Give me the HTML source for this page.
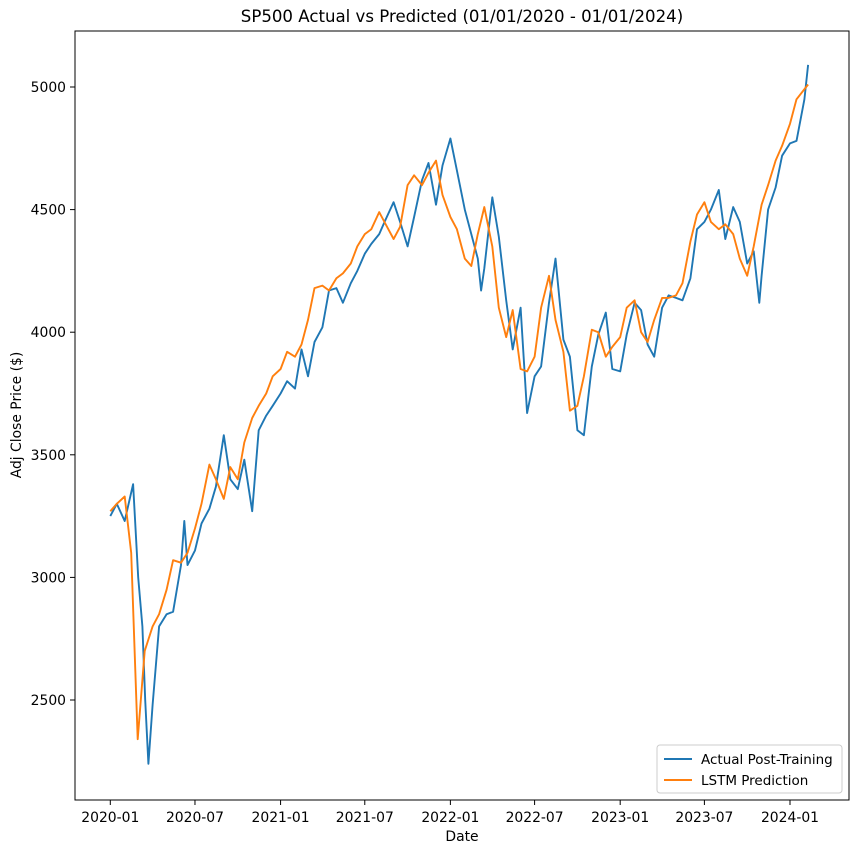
<!DOCTYPE html>
<html><head><meta charset="utf-8"><style>
body{margin:0;background:#fff;font-family:"Liberation Sans","DejaVu Sans",sans-serif;}
svg text{font-family:"DejaVu Sans","Liberation Sans",sans-serif;}
</style></head><body>
<svg id="chart" width="859" height="853" xmlns="http://www.w3.org/2000/svg">
<rect width="859" height="853" fill="#fff"/>
<text x="462" y="22" text-anchor="middle" font-size="16.6">SP500 Actual vs Predicted (01/01/2020 - 01/01/2024)</text>
<text x="462" y="841" text-anchor="middle" font-size="13.9">Date</text>
<text transform="translate(21,415) rotate(-90)" text-anchor="middle" font-size="13.9">Adj Close Price ($)</text>
<g id="xticks"></g>
<g id="yticks"></g>
<g id="series"></g>
<rect x="75" y="31" width="774" height="769" fill="none" stroke="#000" stroke-width="1"/>
<g>
<rect x="657" y="745" width="185" height="48" rx="3" fill="#fff" stroke="#ccc"/>
<line x1="664" y1="759" x2="692" y2="759" stroke="#1f77b4" stroke-width="2"/>
<text x="701" y="764" font-size="13.5">Actual Post-Training</text>
<line x1="664" y1="780" x2="692" y2="780" stroke="#ff7f0e" stroke-width="2"/>
<text x="701" y="785" font-size="13.5">LSTM Prediction</text>
</g>
</svg>
<script>
const actualDates=["2020-01-01","2020-01-15","2020-02-01","2020-02-19","2020-03-01","2020-03-10","2020-03-16","2020-03-23","2020-04-01","2020-04-15","2020-05-01","2020-05-15","2020-06-01","2020-06-08","2020-06-15","2020-07-01","2020-07-15","2020-08-01","2020-08-15","2020-09-01","2020-09-15","2020-10-01","2020-10-15","2020-11-01","2020-11-15","2020-12-01","2020-12-15",
"2021-01-01","2021-01-15","2021-02-01","2021-02-15","2021-03-01","2021-03-15","2021-04-01","2021-04-15","2021-05-01","2021-05-15","2021-06-01","2021-06-15","2021-07-01","2021-07-15","2021-08-01","2021-08-15","2021-09-01","2021-09-15","2021-10-01","2021-10-15","2021-11-01","2021-11-15","2021-12-01","2021-12-15",
"2022-01-01","2022-01-15","2022-02-01","2022-02-15","2022-03-01","2022-03-08","2022-03-15","2022-04-01","2022-04-15","2022-05-01","2022-05-15","2022-06-01","2022-06-15","2022-07-01","2022-07-15","2022-08-01","2022-08-15","2022-09-01","2022-09-15","2022-10-01","2022-10-15","2022-11-01","2022-11-15","2022-12-01","2022-12-15",
"2023-01-01","2023-01-15","2023-02-01","2023-02-15","2023-03-01","2023-03-15","2023-04-01","2023-04-15","2023-05-01","2023-05-15","2023-06-01","2023-06-15","2023-07-01","2023-07-15","2023-08-01","2023-08-15","2023-09-01","2023-09-15","2023-10-01","2023-10-15","2023-10-27","2023-11-01","2023-11-15","2023-12-01","2023-12-15",
"2024-01-01","2024-01-15","2024-02-01","2024-02-09"];
const actualValues=[3250,3300,3230,3380,3000,2800,2500,2240,2480,2800,2850,2860,3050,3230,3050,3110,3220,3280,3370,3580,3400,3360,3480,3270,3600,3660,3700,
3750,3800,3770,3930,3820,3960,4020,4170,4180,4120,4200,4250,4320,4360,4400,4460,4530,4450,4350,4470,4620,4690,4520,4680,
4790,4660,4500,4400,4300,4170,4260,4550,4390,4130,3930,4100,3670,3820,3860,4120,4300,3970,3900,3600,3580,3860,3990,4080,3850,
3840,3990,4120,4090,3950,3900,4100,4150,4140,4130,4220,4420,4450,4500,4580,4380,4510,4450,4280,4330,4120,4230,4500,4590,4720,
4770,4780,4950,5090];
const predDates=["2020-01-01","2020-01-15","2020-02-01","2020-02-15","2020-02-29","2020-03-15","2020-04-01","2020-04-15","2020-05-01","2020-05-15","2020-06-01","2020-06-15","2020-07-01","2020-07-15","2020-08-01","2020-08-15","2020-09-01","2020-09-15","2020-10-01","2020-10-15","2020-11-01","2020-11-15","2020-12-01","2020-12-15",
"2021-01-01","2021-01-15","2021-02-01","2021-02-15","2021-03-01","2021-03-15","2021-04-01","2021-04-15","2021-05-01","2021-05-15","2021-06-01","2021-06-15","2021-07-01","2021-07-15","2021-08-01","2021-08-15","2021-09-01","2021-09-15","2021-10-01","2021-10-15","2021-11-01","2021-11-15","2021-12-01","2021-12-15",
"2022-01-01","2022-01-15","2022-02-01","2022-02-15","2022-03-01","2022-03-15","2022-04-01","2022-04-15","2022-05-01","2022-05-15","2022-06-01","2022-06-15","2022-07-01","2022-07-15","2022-08-01","2022-08-15","2022-09-01","2022-09-15","2022-10-01","2022-10-15","2022-11-01","2022-11-15","2022-12-01","2022-12-15",
"2023-01-01","2023-01-15","2023-02-01","2023-02-15","2023-03-01","2023-03-15","2023-04-01","2023-04-15","2023-05-01","2023-05-15","2023-06-01","2023-06-15","2023-07-01","2023-07-15","2023-08-01","2023-08-15","2023-09-01","2023-09-15","2023-10-01","2023-10-15","2023-11-01","2023-11-15","2023-12-01","2023-12-15",
"2024-01-01","2024-01-15","2024-02-09"];
const predValues=[3270,3300,3330,3100,2340,2700,2800,2850,2950,3070,3060,3100,3200,3300,3460,3400,3320,3450,3400,3550,3650,3700,3750,3820,
3850,3920,3900,3950,4050,4180,4190,4170,4220,4240,4280,4350,4400,4420,4490,4440,4380,4430,4600,4640,4600,4650,4700,4560,
4470,4420,4300,4270,4400,4510,4350,4100,3980,4090,3850,3840,3900,4100,4230,4050,3920,3680,3700,3820,4010,4000,3900,3940,
3980,4100,4130,4000,3960,4050,4140,4140,4150,4200,4370,4480,4530,4450,4420,4440,4400,4300,4230,4350,4520,4600,4700,4760,
4850,4950,5010];
const xTickLabels=["2020-01","2020-07","2021-01","2021-07","2022-01","2022-07","2023-01","2023-07","2024-01"];
const yTickValues=[2500,3000,3500,4000,4500,5000];

const NS="http://www.w3.org/2000/svg";
const t0=Date.UTC(2020,0,1);
function dayOf(s){const p=s.split("-").map(Number);return (Date.UTC(p[0],p[1]-1,p[2]||1)-t0)/86400000;}
function xScale(s){return 110.3+dayOf(s)*(679.7/1461);}
function yScale(v){return 700-(v-2500)*(613/2500);}
function mk(tag,attrs,parent){const e=document.createElementNS(NS,tag);for(const k in attrs)e.setAttribute(k,attrs[k]);parent.appendChild(e);return e;}
const xg=document.getElementById("xticks"),yg=document.getElementById("yticks"),sg=document.getElementById("series");
xTickLabels.forEach(l=>{const x=xScale(l);
 const ln=mk("line",{x1:x,x2:x,y1:800,y2:805,stroke:"#000"},xg);
 
 
 const t=mk("text",{x:x,y:822,"text-anchor":"middle","font-size":"13.9"},xg);t.textContent=l;
 
 
});
yTickValues.forEach(v=>{const y=yScale(v);
 const ln=mk("line",{x1:70,x2:75,y1:y,y2:y,stroke:"#000"},yg);
 
 
 const t=mk("text",{x:66,y:y+5,"text-anchor":"end","font-size":"13.9"},yg);t.textContent=v;
 
 
});
function path(dates,vals,color,name){
 const d=dates.map((s,i)=>(i?"L":"M")+xScale(s).toFixed(1)+","+yScale(vals[i]).toFixed(1)).join("");
 const p=mk("path",{d:d,fill:"none",stroke:color,"stroke-width":"1.9","stroke-linejoin":"round"},sg);
 
 
}
path(actualDates,actualValues,"#1f77b4","actual-line");
path(predDates,predValues,"#ff7f0e","lstm-prediction-line");
</script>
</body></html>
